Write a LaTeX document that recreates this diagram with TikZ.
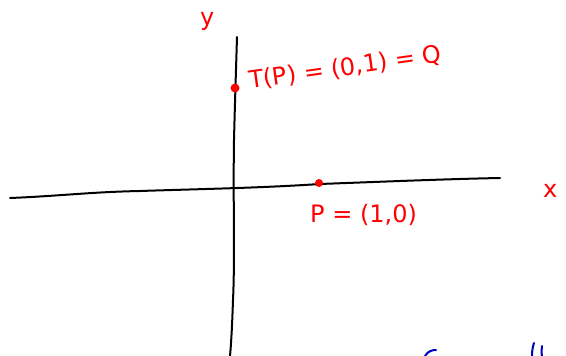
\documentclass[tikz,border=0pt]{standalone}
\usepackage{fontspec}
\setmainfont{DejaVu Sans}
\begin{document}
\begin{tikzpicture}[x=1pt,y=-1pt,
  axisline/.style={line width=2pt,line cap=round,line join=round,black},
  redlabel/.style={text=red,font=\fontsize{24}{26}\selectfont,inner sep=0pt,anchor=base west},
  reddot/.style={circle,fill=red,inner sep=0pt,minimum size=9pt},
  bluestroke/.style={line width=2pt,line cap=round,blue!75!black}]
\useasboundingbox (0,0) rectangle (566,356);
% x axis
\draw[axisline] (10,198) .. controls (60,196) and (90,192) .. (140,191)
  .. controls (200,189) and (260,188) .. (320,184)
  .. controls (400,181) and (450,179) .. (500,178);
% y axis
\draw[axisline] (237,37) .. controls (236,70) and (235,100) .. (234,140)
  .. controls (233,200) and (235,260) .. (233,300)
  .. controls (232,330) and (231,345) .. (230,356);
% points
\node[reddot] (Q) at (235,88) {};
\node[reddot,minimum size=8pt] (P) at (319,183) {};
% labels
\node[redlabel] (ylab) at (200,26) {y};
\node[redlabel] (xlab) at (543,197) {x};
\node[redlabel,rotate=8] (tlab) at (250,89) {T(P) = (0,1) = Q};
\node[redlabel] (plab) at (310,222) {P = (1,0)};
% cut-off blue strokes
\draw[bluestroke] (425,356) .. controls (428,351) and (432,350) .. (436,350);
\draw[bluestroke] (532,356) .. controls (532,350) and (533,346) .. (534,343);
\draw[bluestroke] (542,356) .. controls (541,352) and (542,348) .. (542,346);
\end{tikzpicture}
\end{document}
